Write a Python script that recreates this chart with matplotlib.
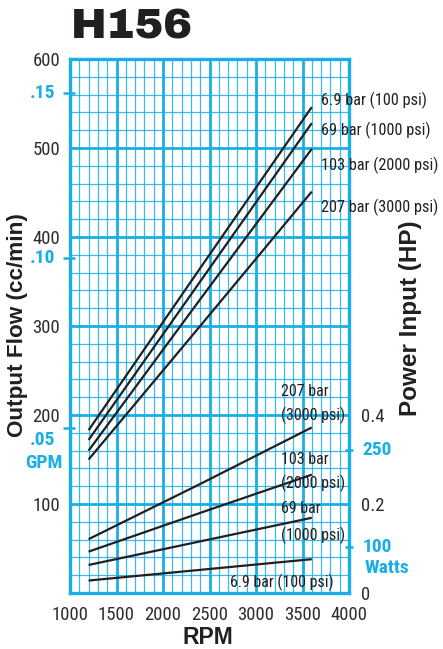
import matplotlib
matplotlib.use("Agg")
import matplotlib.pyplot as plt
import matplotlib.transforms as mtransforms

# ---- data -------------------------------------------------------------
rpm = [1200, 2400, 3600]

flow_6_9 = [183, 365, 546]     # cc/min
flow_69 = [172, 350, 528]
flow_103 = [160, 330, 499]
flow_207 = [150, 300, 451]

power_6_9 = [0.028, 0.052, 0.076]   # HP
power_69 = [0.063, 0.116, 0.169]
power_103 = [0.093, 0.180, 0.266]
power_207 = [0.121, 0.245, 0.372]

flow_labels = ["6.9 bar (100 psi)", "69 bar (1000 psi)",
               "103 bar (2000 psi)", "207 bar (3000 psi)"]
power_labels = [("69 bar", "(1000 psi)"), ("103 bar", "(2000 psi)"),
                ("207 bar", "(3000 psi)")]
power_label_low = "6.9 bar (100 psi)"

x_ticks = [1000, 1500, 2000, 2500, 3000, 3500, 4000]
flow_ticks = [0, 100, 200, 300, 400, 500, 600]
hp_ticks = [0, 0.2, 0.4]
gpm_ticks = [562, 376, 185]          # cc/min positions of the GPM marks
gpm_labels = [".15", ".10", ".05"]
watt_ticks = [0.321, 0.104]          # HP positions of the Watt marks
watt_labels = ["250", "100"]

# ---- style ------------------------------------------------------------
BLUE = "#1aaee6"
INK = "#231f20"
GRAY = "#2e2e2e"
NARROW = "Roboto Condensed"
BOLD = "Liberation Sans"

fig = plt.figure(figsize=(4.43, 6.49), dpi=100)
ax = fig.add_axes([70 / 443, 56 / 649, 279 / 443, 534 / 649])

ax.set_xlim(1000, 4000)
ax.set_ylim(0, 600)
ax.set_xticks(x_ticks)
ax.set_xticks(range(1000, 4001, 100), minor=True)
ax.set_yticks(flow_ticks)
ax.set_yticks(range(0, 601, 20), minor=True)
ax.set_yticklabels(["" if v == 0 else str(v) for v in flow_ticks])
ax.set_xticklabels([str(v) for v in x_ticks])

ax.grid(which="major", color=BLUE, lw=2.0)
ax.grid(which="minor", color=BLUE, lw=0.9, alpha=0.85)
ax.set_axisbelow(True)
for s in ax.spines.values():
    s.set_color(BLUE)
    s.set_linewidth(2.4)
ax.tick_params(which="both", length=0)
ax.tick_params(axis="x", pad=9, labelsize=13.5, labelcolor=GRAY)
ax.tick_params(axis="y", pad=7, labelsize=13.5, labelcolor=GRAY)
for t in ax.get_xticklabels() + ax.get_yticklabels():
    t.set_fontfamily(NARROW)

ax2 = ax.twinx()
ax2.set_ylim(0, 1.2)
ax2.set_yticks(hp_ticks)
ax2.set_yticklabels(["0", "0.2", "0.4"])
ax2.tick_params(length=0, pad=9, labelsize=13.5, labelcolor=GRAY)
for t in ax2.get_yticklabels():
    t.set_fontfamily(NARROW)
for s in ax2.spines.values():
    s.set_visible(False)

# ---- curves -------------------------------------------------------------
for f in (flow_6_9, flow_69, flow_103, flow_207):
    ax.plot(rpm, f, color=INK, lw=1.6, solid_capstyle="butt")
for p in (power_6_9, power_69, power_103, power_207):
    ax2.plot(rpm, p, color=INK, lw=1.6, solid_capstyle="butt")

# curve labels
flow_label_y = [554, 520, 481, 433]
for lab, y in zip(flow_labels, flow_label_y):
    ax.text(3700, y, lab, fontfamily=NARROW, fontsize=11.7, color=INK,
            ha="left", va="center", clip_on=False)

ax2.text(3830, 0.025, power_label_low, fontfamily=NARROW, fontsize=11.5,
         color=INK, ha="right", va="center")
power_label_y = [(0.191, 0.130), (0.299, 0.247), (0.452, 0.400)]
for (l1, l2), (y1, y2) in zip(power_labels, power_label_y):
    ax2.text(3270, y1, l1, fontfamily=NARROW, fontsize=11.5, color=INK,
             ha="left", va="center")
    ax2.text(3270, y2, l2, fontfamily=NARROW, fontsize=11.5, color=INK,
             ha="left", va="center")

# ---- secondary unit marks -------------------------------------------------
blue_kw = dict(color=BLUE, fontsize=14, fontfamily=NARROW, fontweight="bold",
               va="center")
lt = mtransforms.blended_transform_factory(ax.transAxes, ax.transData)
for y, lab in zip(gpm_ticks, gpm_labels):
    ax.plot([-7 / 279, 5 / 279], [y, y], transform=lt, color=BLUE, lw=1.8,
            clip_on=False, solid_capstyle="butt")
    dy = 13 if lab == ".05" else 0
    ax.text(-15 / 279, y - dy, lab, transform=lt, ha="right", **blue_kw)
ax.text(-8 / 279, gpm_ticks[2] - 39, "GPM", transform=lt, ha="right",
        **blue_kw)

rt = mtransforms.blended_transform_factory(ax2.transAxes, ax2.transData)
for y, lab in zip(watt_ticks, watt_labels):
    ax2.plot([1 - 4 / 279, 1 + 4 / 279], [y, y], transform=rt, color=BLUE,
             lw=1.8, clip_on=False, solid_capstyle="butt")
    ax2.text(1 + 13 / 279, y, lab, transform=rt, ha="left", **blue_kw)
ax2.text(1 + 16 / 279, watt_ticks[1] - 0.048, "Watts", transform=rt,
         ha="left", **blue_kw)

# ---- axis titles ------------------------------------------------------------
fig.text(18 / 443, 1 - 325 / 649, "Output Flow (cc/min)", rotation=90,
         fontfamily=BOLD, fontweight="bold", fontsize=16.2, color=INK,
         ha="center", va="center")
fig.text(410 / 443, 1 - 318 / 649, "Power Input (HP)", rotation=90,
         fontfamily=BOLD, fontweight="bold", fontsize=17.5, color=INK,
         ha="center", va="center")
fig.text(208 / 443, 1 - 637 / 649, "RPM", fontfamily=BOLD,
         fontweight="bold", fontsize=16.5, color=INK, ha="center",
         va="center")
fig.text(132 / 443, 1 - 27 / 649, "H156", fontfamily="Archivo Black",
         fontsize=31, color=INK, ha="center", va="center")

fig.savefig("out.png", dpi=100)
